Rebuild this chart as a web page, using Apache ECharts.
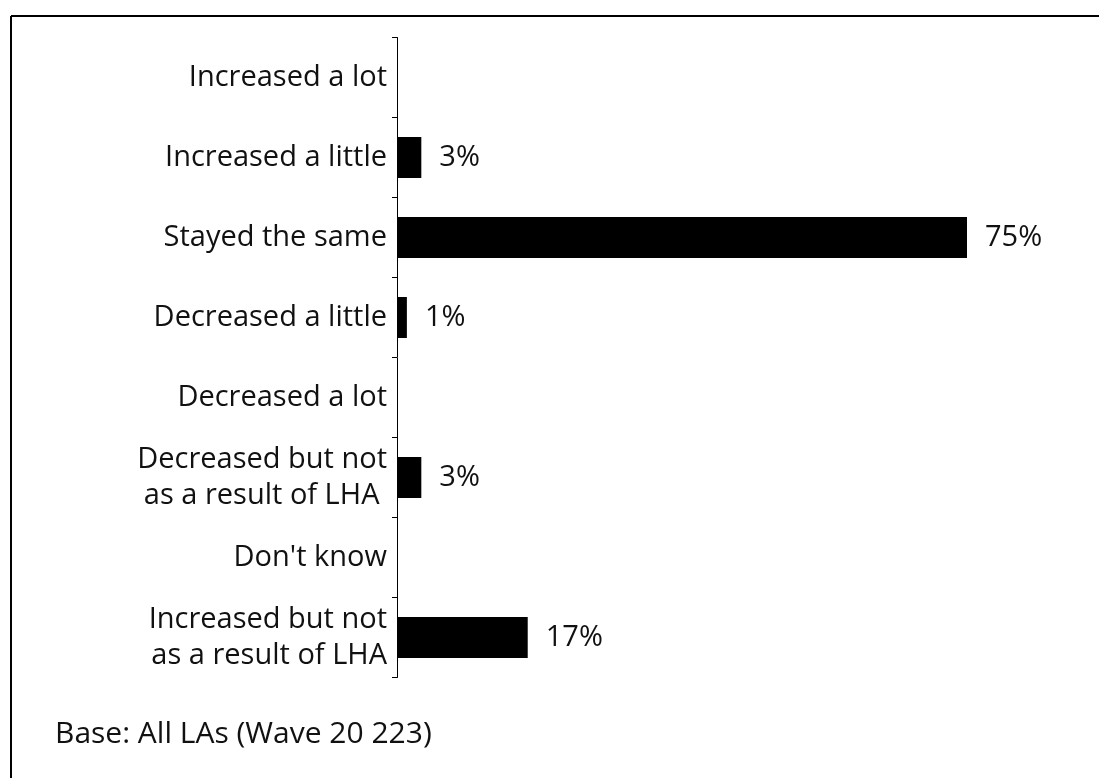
<!DOCTYPE html>
<html>
<head>
<meta charset="utf-8">
<script src="https://cdn.jsdelivr.net/npm/echarts@6/dist/echarts.min.js"></script>
<style>
html,body{margin:0;padding:0;background:#fff;}
#chart{width:1099px;height:778px;}
</style>
</head>
<body>
<div id="chart"></div>
<script>
const categories = [
  "Increased a lot",
  "Increased a little",
  "Stayed the same",
  "Decreased a little",
  "Decreased a lot",
  "Decreased but not\nas a result of LHA ",
  "Don't know",
  "Increased but not\nas a result of LHA"
];
const values = [0, 3.2, 75, 1.3, 0, 3.2, 0, 17.2];
const valueLabels = ["", "3%", "75%", "1%", "", "3%", "", "17%"];
const baseNote = "Base: All LAs (Wave 20 223)";

const FONT = "Open Sans";
const FS = 29;
const chart = echarts.init(document.getElementById('chart'));
chart.setOption({
  animation: false,
  backgroundColor: '#fff',
  textStyle: { fontFamily: FONT },
  grid: { left: 397, top: 37.5, height: 640, right: 94 },
  xAxis: {
    type: 'value', min: 0, max: 80, show: false
  },
  yAxis: {
    type: 'category',
    inverse: true,
    data: categories,
    axisLine: { lineStyle: { color: '#000', width: 1 } },
    axisTick: { show: true, length: 5, lineStyle: { color: '#000' } },
    axisLabel: { color: '#111', fontSize: FS, fontFamily: FONT, margin: 10, lineHeight: 36, align: 'right' }
  },
  series: [{
    type: 'bar',
    data: values,
    barWidth: 41,
    itemStyle: { color: '#000' },
    label: {
      show: true, position: 'right', distance: 18,
      color: '#111', fontSize: FS, fontFamily: FONT,
      formatter: p => valueLabels[p.dataIndex]
    }
  }],
  graphic: [
    { type: 'line', shape: { x1: 11, y1: 16, x2: 1099, y2: 16 }, style: { stroke: '#000', lineWidth: 2 } },
    { type: 'line', shape: { x1: 11, y1: 16, x2: 11, y2: 778 }, style: { stroke: '#000', lineWidth: 2 } },
    { type: 'text', left: 55, top: 719, style: { text: baseNote, fontSize: 30, fontFamily: FONT, fill: '#111' } }
  ]
});
</script>
</body>
</html>
